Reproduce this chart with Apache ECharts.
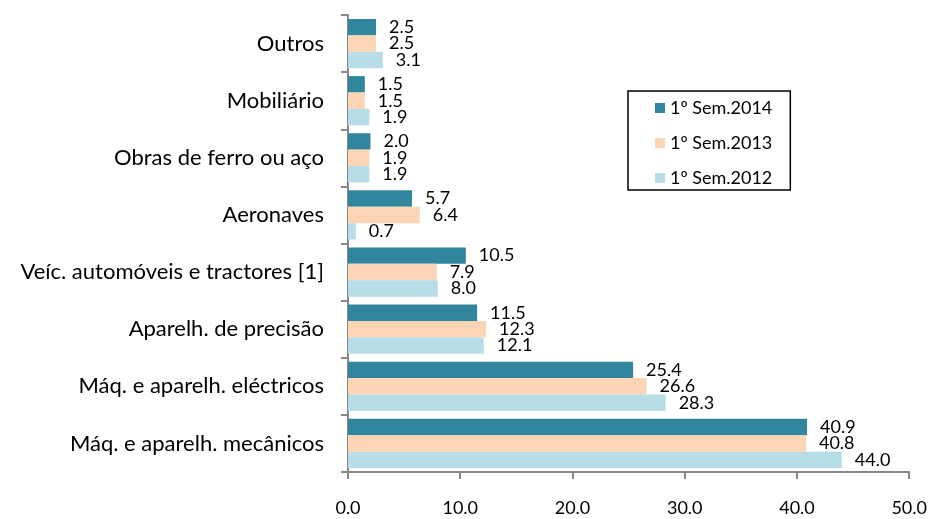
<!DOCTYPE html>
<html>
<head>
<meta charset="utf-8">
<script src="https://cdn.jsdelivr.net/npm/echarts@6/dist/echarts.min.js"></script>
<style>html,body{margin:0;padding:0;background:#fff;}#c{width:930px;height:519px;}</style>
</head>
<body>
<div id="c"></div>
<script>
var categories = ['Máq. e aparelh. mecânicos', 'Máq. e aparelh. eléctricos', 'Aparelh. de precisão', 'Veíc. automóveis e tractores [1]', 'Aeronaves', 'Obras de ferro ou aço', 'Mobiliário', 'Outros'];
var sem2014 = [40.9, 25.4, 11.5, 10.5, 5.7, 2.0, 1.5, 2.5];
var sem2013 = [40.8, 26.6, 12.3, 7.9, 6.4, 1.9, 1.5, 2.5];
var sem2012 = [44.0, 28.3, 12.1, 8.0, 0.7, 1.9, 1.9, 3.1];
var xTicks = [0, 10, 20, 30, 40, 50];

var FONT = 'Lato';
function lbl() {
  return {show: true, position: 'right', distance: 13, color: '#000', fontFamily: FONT, fontSize: 18,
    formatter: function (p) { return p.value.toFixed(1); }};
}
var chart = echarts.init(document.getElementById('c'));
chart.setOption({
  animation: false,
  textStyle: {fontFamily: FONT},
  grid: {left: 348, right: 19, top: 15, bottom: 47},
  legend: {
    orient: 'vertical', left: 628, top: 91,
    data: ['1º Sem.2014', '1º Sem.2013', '1º Sem.2012'],
    icon: 'rect', itemWidth: 10, itemHeight: 10, itemGap: 17, itemTextGap: 5,
    padding: [8, 18, 3, 27],
    borderColor: '#000', borderWidth: 1.5,
    textStyle: {fontFamily: FONT, fontSize: 18, color: '#000'}
  },
  xAxis: {
    type: 'value', min: xTicks[0], max: xTicks[xTicks.length - 1], interval: 10,
    axisLine: {show: true, lineStyle: {color: '#888', width: 2}},
    axisTick: {show: true, length: 7, lineStyle: {color: '#888', width: 2}},
    splitLine: {show: false},
    axisLabel: {margin: 27, color: '#000', fontSize: 18, fontFamily: FONT, formatter: function (v) { return v.toFixed(1); }}
  },
  yAxis: {
    type: 'category', data: categories,
    axisLine: {show: true, lineStyle: {color: '#888', width: 2}},
    axisTick: {show: true, length: 7, lineStyle: {color: '#888', width: 2}},
    axisLabel: {margin: 24, color: '#000', fontSize: 22, fontFamily: FONT}
  },
  series: [
    {name: '1º Sem.2014', type: 'bar', data: sem2014, barGap: '0%', barCategoryGap: '14%', itemStyle: {color: '#31859C'}, label: lbl()},
    {name: '1º Sem.2013', type: 'bar', data: sem2013, barGap: '0%', barCategoryGap: '14%', itemStyle: {color: '#FCD5B5'}, label: lbl()},
    {name: '1º Sem.2012', type: 'bar', data: sem2012, barGap: '0%', barCategoryGap: '14%', itemStyle: {color: '#B7DEE8'}, label: lbl()}
  ]
});
</script>
</body>
</html>
